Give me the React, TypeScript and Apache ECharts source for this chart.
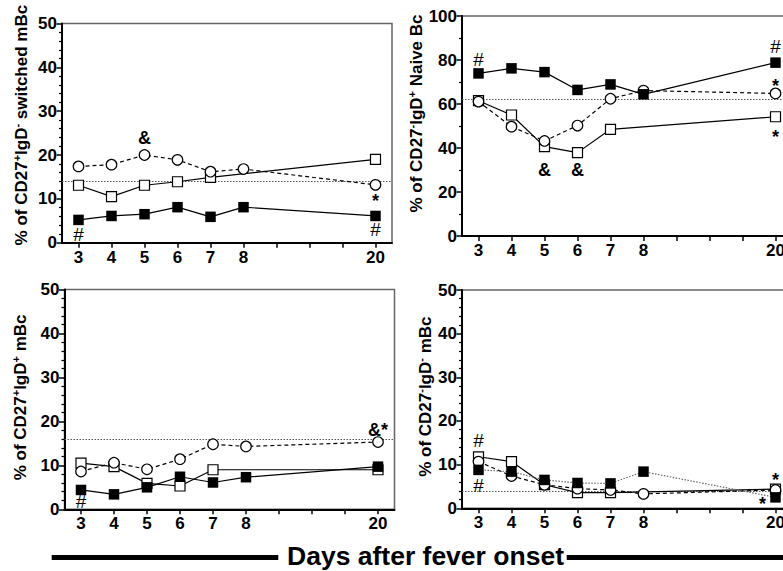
import React, { useEffect, useRef } from 'react';
import * as echarts from 'echarts';

// ---- data ----
const days = [3, 4, 5, 6, 7, 8, 20];
const xTicks = ['3', '4', '5', '6', '7', '8', '', '', '', '20'];

// Panel A: CD27+IgD- switched mBc
const aFilled = [5.2, 6.1, 6.5, 8.1, 5.9, 8.1, 6.1];
const aOpenSq = [13.1, 10.5, 13.1, 13.9, 14.9, null, 19.0];
const aCircle = [17.4, 17.8, 20.0, 18.9, 16.2, 16.8, 13.2];
const aRef = 14.1;
const aNotes = [
  { day: 5, value: 23.9, text: '&' },
  { day: 20, value: 9.6, text: '*' },
  { day: 3, value: 1.8, text: '#' },
  { day: 20, value: 2.9, text: '#' },
];

// Panel B: CD27-IgD+ naive Bc
const bFilled = [73.9, 76.2, 74.5, 66.4, 68.9, 64.4, 78.8];
const bOpenSq = [61.5, 55.0, 40.6, 37.9, 48.5, null, 54.2];
const bCircle = [61.1, 49.7, 43.2, 50.2, 62.4, 66.1, 64.8];
const bRef = 62.1;
const bNotes = [
  { day: 3, value: 80.3, text: '#' },
  { day: 20, value: 86.0, text: '#' },
  { day: 20, value: 68.3, text: '*' },
  { day: 20, value: 44.9, text: '*' },
  { day: 5, value: 30.0, text: '&' },
  { day: 6, value: 30.0, text: '&' },
];

// Panel C: CD27+IgD+ mBc
const cFilled = [4.4, 3.4, 5.0, 7.4, 6.1, 7.3, 9.7];
const cOpenSq = [10.5, 9.7, 5.9, 5.3, 9.0, null, 9.0];
const cCircle = [8.6, 10.6, 9.1, 11.4, 14.8, 14.3, 15.3];
const cRef = 16.0;
const cNotes = [
  { day: 3, value: 1.7, text: '#' },
  { day: 20, value: 18.1, text: '&*' },
];

// Panel D: CD27-IgD- mBc
const dFilled = [8.8, 8.4, 6.5, 5.8, 5.7, 8.4, 2.5];
const dOpenSq = [11.8, 10.7, 5.4, 3.6, 3.6, null, 4.4];
const dCircle = [10.7, 7.4, 5.4, 4.5, 4.2, 3.3, 4.2];
const dRef = 4.0;
const dNotes = [
  { day: 3, value: 15.5, text: '#' },
  { day: 3, value: 5.2, text: '#' },
  { day: 20, value: 6.5, text: '*' },
  { day: 20, value: 1.0, text: '*', shift: true },
];

const FONT = 'Liberation Sans';

const panels = [
  {
    filled: aFilled, openSq: aOpenSq, circle: aCircle, ref: aRef, notes: aNotes,
    max: 50, interval: 10, minorSplit: 5, filledDotted: false,
    title: ['% of CD27', '+', 'IgD', '-', ' switched mBc'],
    grid: { left: 62, top: 23.5, width: 330, height: 219.2 }, nameGap: 31, namePad: 16,
  },
  {
    filled: bFilled, openSq: bOpenSq, circle: bCircle, ref: bRef, notes: bNotes,
    max: 100, interval: 20, minorSplit: 2, filledDotted: false,
    title: ['% of CD27', '-', 'IgD', '+', ' Naive Bc'],
    grid: { left: 462, top: 16, width: 330, height: 220 }, nameGap: 29, namePad: 25,
  },
  {
    filled: cFilled, openSq: cOpenSq, circle: cCircle, ref: cRef, notes: cNotes,
    max: 50, interval: 10, minorSplit: 5, filledDotted: false,
    title: ['% of CD27', '+', 'IgD', '+', ' mBc'],
    grid: { left: 64.5, top: 289.5, width: 330, height: 219.8 }, nameGap: 34, namePad: 4,
  },
  {
    filled: dFilled, openSq: dOpenSq, circle: dCircle, ref: dRef, notes: dNotes,
    max: 50, interval: 10, minorSplit: 5, filledDotted: true,
    title: ['% of CD27', '-', 'IgD', '-', ' mBc'],
    grid: { left: 462, top: 290, width: 330, height: 218.3 }, nameGap: 27, namePad: 5,
  },
];

function toPoints(vals: (number | null)[]) {
  const pts: [number, number][] = [];
  days.forEach((d, i) => {
    const v = vals[i];
    if (v !== null && v !== undefined) pts.push([xTicks.indexOf(String(d)), v]);
  });
  return pts;
}

function buildOption() {
  const grid: any[] = [];
  const xAxis: any[] = [];
  const yAxis: any[] = [];
  const series: any[] = [];

  panels.forEach((p, i) => {
    grid.push({
      ...p.grid,
      show: true,
      borderColor: '#666',
      borderWidth: 1.5,
      backgroundColor: 'transparent',
      containLabel: false,
    });
    xAxis.push({
      gridIndex: i,
      type: 'category',
      data: xTicks,
      boundaryGap: true,
      axisLine: { show: true, lineStyle: { color: '#000', width: 2 } },
      axisTick: { show: true, alignWithLabel: true, interval: 0, length: 5, lineStyle: { color: '#000', width: 1.5 } },
      axisLabel: { interval: 0, margin: 6, fontSize: 17, fontWeight: 'bold', fontFamily: FONT, color: '#000' },
      splitLine: { show: false },
    });
    const t = p.title;
    yAxis.push({
      gridIndex: i,
      type: 'value',
      min: 0,
      max: p.max,
      interval: p.interval,
      axisLine: { show: true, lineStyle: { color: '#000', width: 2 } },
      axisTick: { show: true, length: 5.5, lineStyle: { color: '#000', width: 1.5 } },
      minorTick: { show: true, splitNumber: p.minorSplit, length: 3, lineStyle: { color: '#000', width: 1.2 } },
      splitLine: { show: false },
      minorSplitLine: { show: false },
      axisLabel: { margin: 5, fontSize: 17, fontWeight: 'bold', fontFamily: FONT, color: '#000' },
      name: `{n|${t[0]}}{s|${t[1]}}{n|${t[2]}}{s|${t[3]}}{n|${t[4]}}`,
      nameLocation: 'middle',
      nameGap: p.nameGap,
      nameTextStyle: {
        color: '#000',
        fontFamily: FONT,
        fontWeight: 'bold',
        fontSize: 17,
        padding: [0, 0, 0, p.namePad],
        rich: {
          n: { fontSize: 17, fontWeight: 'bold', fontFamily: FONT, color: '#000', lineHeight: 20 },
          s: { fontSize: 11, fontWeight: 'bold', fontFamily: FONT, color: '#000', lineHeight: 12, verticalAlign: 'top' },
        },
      },
    });

    const base = { type: 'line', xAxisIndex: i, yAxisIndex: i, connectNulls: true, animation: false, z: 3 };

    series.push({
      ...base,
      name: 'openSq' + i,
      data: toPoints(p.openSq),
      symbol: 'rect',
      symbolSize: 10,
      lineStyle: { color: '#000', width: 1.2, type: 'solid' },
      itemStyle: { color: '#fff', borderColor: '#000', borderWidth: 1.2 },
      markLine: {
        silent: true,
        symbol: 'none',
        label: { show: false },
        lineStyle: { color: '#555', width: 1, type: [1.5, 1.5] },
        data: [{ yAxis: p.ref }],
        z: 1,
      },
    });
    series.push({
      ...base,
      name: 'circle' + i,
      data: toPoints(p.circle),
      symbol: 'circle',
      symbolSize: 10.5,
      lineStyle: { color: '#000', width: 1.2, type: [4, 3] },
      itemStyle: { color: '#fff', borderColor: '#000', borderWidth: 1.2 },
      z: 4,
    });
    series.push({
      ...base,
      name: 'filled' + i,
      data: toPoints(p.filled),
      symbol: 'rect',
      symbolSize: 10.5,
      lineStyle: p.filledDotted
        ? { color: '#666', width: 1.2, type: [1.5, 1.5] }
        : { color: '#000', width: 1.2, type: 'solid' },
      itemStyle: { color: '#000', borderColor: '#000', borderWidth: 0 },
      z: 5,
    });
    series.push({
      type: 'scatter',
      xAxisIndex: i,
      yAxisIndex: i,
      symbolSize: 0,
      silent: true,
      z: 6,
      itemStyle: { color: '#000', opacity: 1 },
      emphasis: { disabled: true },
      data: p.notes.map((n: any) => ({
        name: n.text,
        value: [xTicks.indexOf(String(n.day)), n.value],
        label: n.shift ? { offset: [-13, 0] } : undefined,
      })),
      label: {
        show: true,
        position: 'inside',
        color: '#000',
        opacity: 1,
        textBorderWidth: 0,
        textBorderColor: 'transparent',
        formatter: (q: any) => (q.name === '#' ? `{h|${q.name}}` : `{b|${q.name}}`),
        rich: {
          h: { fontSize: 19, fontWeight: 'normal', fontFamily: FONT, color: '#000', textBorderWidth: 0 },
          b: { fontSize: 18, fontWeight: 'bold', fontFamily: FONT, color: '#000', textBorderWidth: 0 },
        },
      },
    });
  });

  return {
    animation: false,
    backgroundColor: '#fff',
    grid,
    xAxis,
    yAxis,
    series,
    graphic: [
      { type: 'rect', shape: { x: 51.7, y: 555, width: 226.6, height: 5 }, style: { fill: '#000' } },
      { type: 'rect', shape: { x: 566.7, y: 555, width: 240, height: 5 }, style: { fill: '#000' } },
      {
        type: 'text',
        x: 425.5,
        y: 555.8,
        style: {
          text: 'Days after fever onset',
          fontFamily: FONT,
          fontWeight: 'bold',
          fontSize: 26.5,
          fill: '#000',
          align: 'center',
          verticalAlign: 'middle',
        },
      },
    ],
  };
}

export default function App() {
  const ref = useRef<HTMLDivElement>(null);
  useEffect(() => {
    document.body.style.margin = '0';
    document.body.style.overflow = 'hidden';
    if (!ref.current) return;
    const chart = echarts.init(ref.current, null, { renderer: 'svg', width: 810, height: 571 });
    chart.setOption(buildOption() as any);
    return () => chart.dispose();
  }, []);
  return <div ref={ref} style={{ width: 783, height: 571, overflow: 'hidden' }} />;
}
